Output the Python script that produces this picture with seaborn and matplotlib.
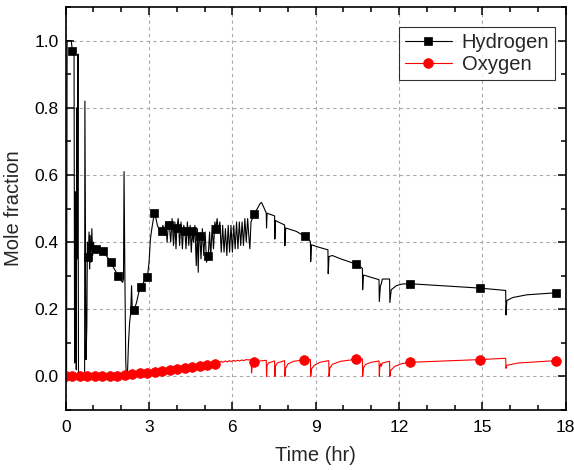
import numpy as np
import pandas as pd
import seaborn as sns
import matplotlib
matplotlib.use("Agg")
import matplotlib.pyplot as plt
from matplotlib.ticker import MultipleLocator

# ---------------- data ----------------
h2_time = [0.00, 0.03, 0.05, 0.15, 0.20, 0.24, 0.30, 0.32, 0.34, 0.36, 0.38, 0.40, 0.42, 0.44, 0.46,
           0.51, 0.60, 0.68, 0.69, 0.71, 0.73, 0.76, 0.78, 0.81, 0.84, 0.86, 0.88, 0.91, 0.94, 0.97,
           1.00, 1.03, 1.08, 1.20, 1.35, 1.50, 1.62, 1.75, 1.89, 1.95, 2.05, 2.08, 2.10, 2.13, 2.16,
           2.18, 2.22, 2.26, 2.30, 2.34, 2.37, 2.40, 2.46, 2.55, 2.63, 2.71, 2.80, 2.94, 3.00, 3.05,
           3.10, 3.19, 3.25, 3.30, 3.35, 3.40,
           3.45, 3.50, 3.55, 3.60, 3.65, 3.70, 3.73, 3.78, 3.83, 3.88, 3.93, 3.97, 4.00, 4.05, 4.10,
           4.15, 4.20, 4.25, 4.29, 4.33, 4.38, 4.43, 4.48, 4.52, 4.56, 4.60, 4.65, 4.70, 4.74, 4.77,
           4.80, 4.83, 4.87, 4.92, 4.97, 5.02, 5.07, 5.13, 5.18, 5.22, 5.27, 5.32, 5.37, 5.41, 5.45,
           5.50, 5.55, 5.60, 5.65, 5.70, 5.75, 5.80, 5.85, 5.90, 5.95, 6.00, 6.05, 6.10, 6.15, 6.20,
           6.25, 6.30, 6.35, 6.40, 6.45, 6.50, 6.55, 6.60, 6.63, 6.67, 6.72, 6.78,
           6.90, 7.00, 7.05, 7.15, 7.22, 7.23, 7.25, 7.52, 7.53, 7.55, 7.88, 7.89, 7.92, 8.30, 8.61,
           8.81, 8.82, 8.85, 9.10, 9.44, 9.45, 9.48, 9.60, 9.90, 10.44, 10.68, 10.69, 10.72, 11.28,
           11.29, 11.33, 11.36, 11.40, 11.66, 11.67, 11.72, 11.90, 12.10, 12.39, 14.91, 15.84, 15.85,
           15.88, 16.10, 16.60, 17.65]
h2_frac = [0.00, 0.00, 1.00, 1.00, 1.00, 0.968, 0.96, 0.04, 0.55, 0.25, 0.02, 0.80, 0.35, 0.96, 0.00,
           0.00, 0.00, 0.00, 0.82, 0.45, 0.05, 0.15, 0.40, 0.357, 0.43, 0.32, 0.42, 0.34, 0.44, 0.36,
           0.40, 0.37, 0.38, 0.375, 0.372, 0.355, 0.34, 0.32, 0.30, 0.29, 0.28, 0.29, 0.61, 0.30, 0.05,
           0.00, 0.00, 0.10, 0.16, 0.19, 0.27, 0.19, 0.198, 0.22, 0.25, 0.265, 0.28, 0.296, 0.34, 0.41,
           0.44, 0.486, 0.47, 0.45, 0.44, 0.43,
           0.434, 0.45, 0.42, 0.46, 0.40, 0.46, 0.452, 0.40, 0.47, 0.39, 0.46, 0.38, 0.442, 0.47, 0.39,
           0.46, 0.38, 0.45, 0.434, 0.38, 0.46, 0.39, 0.45, 0.37, 0.432, 0.40, 0.45, 0.33, 0.44, 0.31,
           0.42, 0.417, 0.35, 0.44, 0.36, 0.43, 0.34, 0.359, 0.43, 0.35, 0.45, 0.38, 0.46, 0.439, 0.47,
           0.43, 0.46, 0.37, 0.45, 0.37, 0.44, 0.36, 0.45, 0.37, 0.45, 0.37, 0.45, 0.38, 0.46, 0.38,
           0.46, 0.39, 0.46, 0.39, 0.47, 0.40, 0.47, 0.41, 0.38, 0.46, 0.47, 0.483,
           0.50, 0.515, 0.518, 0.50, 0.486, 0.442, 0.486, 0.478, 0.409, 0.464, 0.451, 0.389, 0.442, 0.432, 0.417,
           0.402, 0.342, 0.392, 0.385, 0.377, 0.306, 0.357, 0.36, 0.35, 0.335, 0.322, 0.258, 0.302, 0.288,
           0.223, 0.27, 0.275, 0.29, 0.29, 0.22, 0.258, 0.27, 0.275, 0.276, 0.263, 0.256, 0.183,
           0.226, 0.235, 0.243, 0.249]
h2_marker_time = [0.24, 0.81, 1.08, 1.35, 1.62, 1.89, 2.46, 2.71, 2.94, 3.19, 3.45, 3.73,
                  4.00, 4.29, 4.56, 4.83, 5.13, 5.41, 6.78, 8.61, 10.44, 12.39, 14.91, 17.65]

o2_time = [0.00, 0.24, 0.51, 0.78, 1.05, 1.32, 1.59, 1.86, 2.13, 2.40, 2.67, 2.94, 3.21, 3.48, 3.75,
           4.02, 4.29, 4.56, 4.83, 5.10, 5.37, 5.45, 5.50, 5.60, 5.65, 5.75, 5.80, 5.90, 5.95, 6.05,
           6.10, 6.20, 6.25, 6.35, 6.40, 6.50, 6.60, 6.68, 6.69, 6.72, 6.78, 7.00, 7.22, 7.23, 7.25,
           7.30, 7.52, 7.53, 7.55, 7.62, 7.88, 7.89, 7.92, 8.00, 8.20, 8.59, 8.81, 8.82, 8.85, 8.95,
           9.15, 9.47, 9.48, 9.51, 9.60, 9.90, 10.45, 10.68, 10.69, 10.72, 10.80, 11.00, 11.28, 11.29,
           11.31, 11.34, 11.36, 11.40, 11.66, 11.67, 11.70, 11.85, 12.10, 12.39, 14.90, 15.84, 15.85,
           15.88, 16.30, 17.65]
o2_frac = [0.002, 0.002, 0.002, 0.002, 0.002, 0.002, 0.002, 0.002, 0.003, 0.006, 0.009, 0.011, 0.014, 0.016, 0.019,
           0.021, 0.024, 0.027, 0.030, 0.034, 0.037, 0.043, 0.040, 0.045, 0.042, 0.046, 0.043, 0.047, 0.044, 0.048,
           0.045, 0.048, 0.046, 0.049, 0.047, 0.050, 0.049, 0.050, 0.010, 0.035, 0.042, 0.046, 0.048, 0.000, 0.032,
           0.040, 0.046, 0.000, 0.030, 0.040, 0.047, 0.000, 0.025, 0.037, 0.045, 0.049, 0.050, 0.000, 0.022, 0.033,
           0.042, 0.047, 0.000, 0.025, 0.036, 0.045, 0.051, 0.052, 0.000, 0.026, 0.036, 0.042, 0.046, 0.000,
           0.028, 0.038, 0.030, 0.040, 0.045, 0.000, 0.018, 0.030, 0.038, 0.042, 0.050, 0.054, 0.024,
           0.033, 0.040, 0.047]
o2_marker_time = [0.00, 0.24, 0.51, 0.78, 1.05, 1.32, 1.59, 1.86, 2.13, 2.40, 2.67, 2.94, 3.21, 3.48,
                  3.75, 4.02, 4.29, 4.56, 4.83, 5.10, 5.37, 6.78, 8.59, 10.45, 12.39, 14.90, 17.65]

x_ticks = [0, 3, 6, 9, 12, 15, 18]
y_ticks = [0.0, 0.2, 0.4, 0.6, 0.8, 1.0]
series_names = ["Hydrogen", "Oxygen"]

# ---------------- style ----------------
sns.set_style("ticks")
plt.rcParams["font.family"] = ["Liberation Sans", "DejaVu Sans"]
plt.rcParams["xtick.direction"] = "in"
plt.rcParams["ytick.direction"] = "in"

fig = plt.figure(figsize=(5.74, 4.70), dpi=100)
ax = fig.add_axes([0.1145, 0.1277, 0.871, 0.8573])

h2_df = pd.DataFrame({"t": h2_time, "y": h2_frac})
o2_df = pd.DataFrame({"t": o2_time, "y": o2_frac})
h2_idx = [h2_time.index(t) for t in h2_marker_time]
o2_idx = [o2_time.index(t) for t in o2_marker_time]

sns.lineplot(data=h2_df, x="t", y="y", ax=ax, sort=False, estimator=None,
             color="black", lw=0.8, marker="s", markersize=6.2, markevery=h2_idx,
             markeredgecolor="black", markeredgewidth=0.5, label=series_names[0])
sns.lineplot(data=o2_df, x="t", y="y", ax=ax, sort=False, estimator=None,
             color="red", lw=0.8, marker="o", markersize=7.0, markevery=o2_idx,
             markeredgecolor="red", markeredgewidth=0.5, label=series_names[1])

ax.set_xlim(0, 18)
ax.set_ylim(-0.1, 1.1)
ax.set_xticks(x_ticks)
ax.set_yticks(y_ticks)
ax.set_yticklabels([f"{v:.1f}" for v in y_ticks])
ax.xaxis.set_minor_locator(MultipleLocator(1))
ax.yaxis.set_minor_locator(MultipleLocator(0.1))
ax.tick_params(which="both", direction="in", top=True, right=True, colors="black",
               labelsize=12.5, width=1.1)
ax.tick_params(which="major", length=6)
ax.tick_params(which="minor", length=3.5)
ax.tick_params(axis="x", pad=7)
ax.tick_params(axis="y", pad=5)

ax.grid(True, which="major", color="#aaaaaa", linestyle=(0, (3, 3)), linewidth=0.8)
ax.set_axisbelow(True)
for s in ax.spines.values():
    s.set_color("black")
    s.set_linewidth(1.2)

ax.set_xlabel("Time (hr)", fontsize=14.5, labelpad=8)
ax.set_ylabel("Mole fraction", fontsize=14.5, labelpad=8)

leg = ax.legend(loc="upper right", bbox_to_anchor=(0.979, 0.95), fontsize=14.5,
                frameon=True, fancybox=False, edgecolor="black", handlelength=2.3,
                borderpad=0.3, labelspacing=0.15, handletextpad=0.5, borderaxespad=0)
leg.get_frame().set_linewidth(0.8)

fig.savefig("out.png", dpi=100)
